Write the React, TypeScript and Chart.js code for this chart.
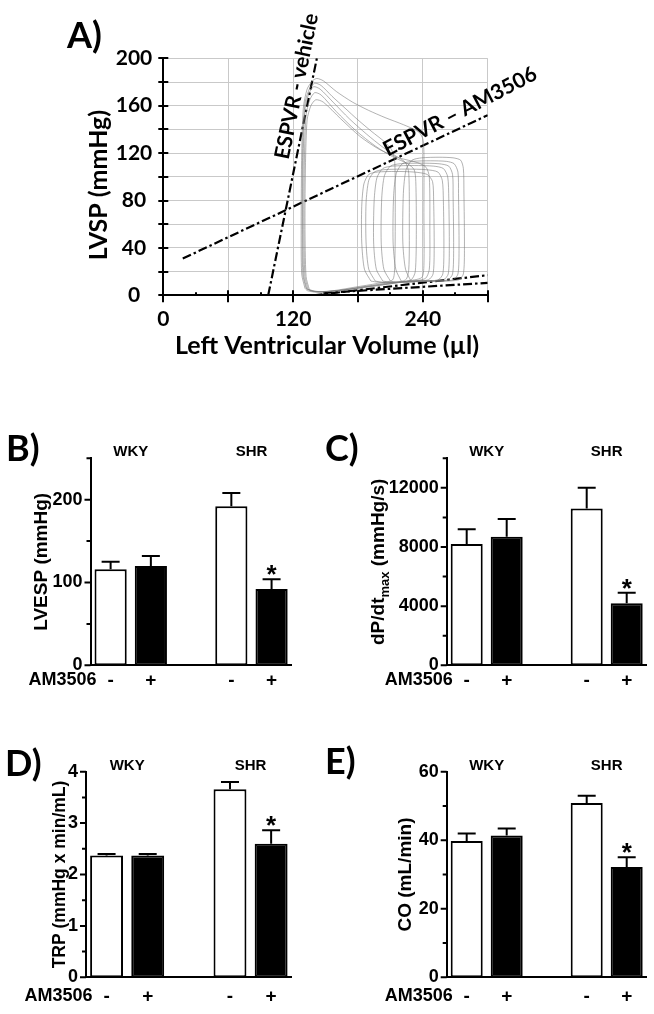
import React, { useEffect, useRef } from 'react';
import { Chart, registerables } from 'chart.js';

Chart.register(...registerables);

type Pt = [number, number];

// ---------------- Panel A: pressure–volume loops ----------------
const volumeMin = 0;
const volumeMax = 300;
const pressureMin = 0;
const pressureMax = 200;

const espvrVehicle: Pt[] = [[97, 0], [142, 200]];
const espvrAM3506: Pt[] = [[18, 31], [300, 152]];
const edpvrUpper: Pt[] = [[139, 0], [300, 17]];
const edpvrLower: Pt[] = [[148, 2], [300, 10.5]];

const vehicleLoop1: Pt[] = [[131, 6], [128, 18], [127.5, 60], [128, 120], [129.5, 158], [133, 174], [138, 181], [142, 183], [148, 181], [160, 172], [175, 163], [190, 156], [205, 150], [222, 144], [236, 138], [240, 132], [241, 120], [241, 70], [241, 25], [239, 15], [225, 12], [205, 9], [182, 6], [162, 4], [148, 3], [138, 3], [133, 4], [131, 6]];
const vehicleLoop2: Pt[] = [[132, 6], [129, 18], [128.5, 70], [129, 130], [131, 162], [135, 174], [140, 179], [146, 177], [156, 168], [168, 158], [180, 148], [193, 138], [204, 130], [211, 123], [214, 113], [214.5, 70], [214, 25], [212, 13], [198, 10], [178, 7], [158, 4], [144, 3], [136, 4], [132, 6]];
const vehicleLoop3: Pt[] = [[133, 5], [130, 16], [129, 60], [129.5, 120], [131, 157], [134.5, 170], [139, 176], [145, 174], [157, 163], [172, 149], [188, 136], [203, 125], [216, 117], [224, 112], [227, 103], [227.5, 60], [227, 22], [224, 13], [205, 10], [183, 7], [162, 4], [146, 3], [137, 4], [133, 5]];
const vehicleLoop4: Pt[] = [[134, 5], [131, 16], [130, 60], [130.5, 115], [132, 152], [135.5, 165], [140, 171], [146, 169], [160, 155], [178, 139], [196, 126], [212, 117], [226, 111], [232, 106], [233.5, 96], [234, 55], [233, 20], [229, 13], [208, 10], [185, 7], [164, 4], [148, 3], [139, 3], [134, 5]];
const vehicleLoop5: Pt[] = [[135, 5], [132, 16], [131, 60], [131.5, 112], [133, 148], [136.5, 160], [141, 165], [148, 163], [164, 149], [182, 134], [200, 123], [218, 116], [235, 112], [243, 108], [246, 100], [246.5, 55], [246, 22], [242, 14], [220, 11], [195, 8], [170, 5], [151, 3], [141, 3], [135, 5]];

const amLoop1: Pt[] = [[192, 12], [186, 22], [183.5, 45], [183.5, 75], [185.5, 94], [190, 102], [198, 104], [215, 104.5], [232, 104], [244, 102], [249, 96], [250, 80], [250.5, 40], [249.5, 18], [245, 13], [230, 12], [212, 11], [199, 11], [192, 12]];
const amLoop2: Pt[] = [[196, 12], [190, 22], [187.5, 45], [187.5, 78], [190, 97], [195, 104], [204, 106], [225, 106.5], [243, 106], [254, 104], [258, 97], [259, 80], [259.5, 40], [258.5, 18], [254, 13], [238, 12], [218, 11], [203, 11], [196, 12]];
const amLoop3: Pt[] = [[203, 12], [197, 22], [194.5, 45], [195, 80], [197.5, 99], [203, 107], [212, 109], [232, 109.5], [250, 109], [259, 107], [263, 100], [264, 82], [264.5, 40], [263.5, 18], [259, 13], [243, 12], [224, 11], [210, 11], [203, 12]];
const amLoop4: Pt[] = [[210, 12], [204, 22], [201.5, 45], [202, 82], [204.5, 101], [210, 109], [219, 111], [238, 111.5], [255, 111], [264, 109], [267.5, 102], [268, 84], [268.5, 40], [267.5, 18], [263, 13], [247, 12], [229, 12], [216, 11], [210, 12]];
const amLoop5: Pt[] = [[220, 12], [215, 22], [212.5, 45], [213, 84], [215.5, 103], [221, 111], [230, 113], [247, 113.5], [262, 113], [269, 111], [272.5, 104], [273, 86], [273.5, 40], [272.5, 18], [268, 13], [253, 12], [236, 12], [225, 11], [220, 12]];
const amLoop6: Pt[] = [[229, 12], [224, 22], [221.5, 45], [222, 86], [224.5, 106], [230, 114], [239, 116], [255, 116.5], [268, 116], [275, 114], [277.5, 107], [278, 88], [278.5, 40], [277.5, 18], [273, 13], [259, 12], [243, 12], [233, 12], [229, 12]];

const vehicleLoops = [vehicleLoop1, vehicleLoop2, vehicleLoop3, vehicleLoop4, vehicleLoop5];
const am3506Loops = [amLoop1, amLoop2, amLoop3, amLoop4, amLoop5, amLoop6];

// ---------------- Panels B–E: bar charts ----------------
const strains = ['WKY', 'SHR'];
const treatmentMarks = ['-', '+'];
const rowLabel = 'AM3506';
const significant = [false, false, false, true];

const lvespMean = [116, 120, 192, 92];
const lvespSem = [9, 12, 16, 12];
const dpdtMean = [8200, 8700, 10600, 4200];
const dpdtSem = [1000, 1200, 1400, 700];
const trpMean = [2.37, 2.37, 3.66, 2.6];
const trpSem = [0.03, 0.03, 0.14, 0.26];
const coMean = [39.8, 41.4, 50.9, 32.2];
const coSem = [2.2, 2.0, 2.1, 2.8];

const FA = 'Lato';
const FB = '"Liberation Sans", Arial, sans-serif';

function toXY(pts: Pt[]) {
  return pts.map(([x, y]) => ({ x, y }));
}

function drawParts(ctx: CanvasRenderingContext2D, parts: { text: string; sub?: boolean }[], cx: number, cy: number, size: number, family: string) {
  ctx.save();
  ctx.translate(cx, cy);
  ctx.rotate(-Math.PI / 2);
  const fonts = parts.map((p) => `bold ${p.sub ? Math.round(size * 0.68) : size}px ${family}`);
  let total = 0;
  const widths = parts.map((p, i) => {
    ctx.font = fonts[i];
    const w = ctx.measureText(p.text).width;
    total += w;
    return w;
  });
  let xx = -total / 2;
  ctx.textAlign = 'left';
  ctx.textBaseline = 'middle';
  ctx.fillStyle = '#000';
  parts.forEach((p, i) => {
    ctx.font = fonts[i];
    ctx.fillText(p.text, xx, p.sub ? size * 0.32 : 0);
    xx += widths[i];
  });
  ctx.restore();
}

function labelAlong(chart: any, line: Pt[], t: number, offset: number, extraAngle: number, text: string, font: string) {
  const { ctx, scales } = chart;
  const ax = scales.x.getPixelForValue(line[0][0]);
  const ay = scales.y.getPixelForValue(line[0][1]);
  const bx = scales.x.getPixelForValue(line[1][0]);
  const by = scales.y.getPixelForValue(line[1][1]);
  const ang = Math.atan2(by - ay, bx - ax);
  const px = ax + (bx - ax) * t;
  const py = ay + (by - ay) * t;
  const nx = Math.sin(ang);
  const ny = -Math.cos(ang);
  ctx.save();
  ctx.translate(px + nx * offset, py + ny * offset);
  ctx.rotate(ang + extraAngle);
  ctx.font = font;
  ctx.fillStyle = '#000';
  ctx.textAlign = 'center';
  ctx.textBaseline = 'middle';
  ctx.fillText(text, 0, 0);
  ctx.restore();
}

const pvPlugin = {
  id: 'pvExtras',
  afterDraw(chart: any) {
    const { ctx, chartArea: a, scales } = chart;
    const x = scales.x;
    const y = scales.y;
    ctx.save();
    ctx.strokeStyle = '#000';
    ctx.lineWidth = 2;
    ctx.beginPath();
    for (const t of y.ticks) {
      const py = Math.round(y.getPixelForValue(t.value));
      ctx.moveTo(a.left - 5, py);
      ctx.lineTo(a.left + 5, py);
    }
    for (const t of x.ticks) {
      const px = Math.round(x.getPixelForValue(t.value));
      if (t.value % 60 === 0) {
        ctx.moveTo(px, a.bottom - 5);
        ctx.lineTo(px, a.bottom + 7);
      } else {
        ctx.moveTo(px, a.bottom - 3);
        ctx.lineTo(px, a.bottom);
      }
    }
    ctx.stroke();
    ctx.restore();

    labelAlong(chart, espvrVehicle, 0.87, 14, 0, 'ESPVR - vehicle', `bold 21px ${FA}`);
    labelAlong(chart, espvrAM3506, 0.93, 15, -0.04, 'ESPVR \u2013 AM3506', `bold 21px ${FA}`);

    drawParts(ctx, [{ text: 'LVSP (mmHg)' }], 99, 185, 25, FA);
    ctx.save();
    ctx.font = `bold 25px ${FA}`;
    ctx.fillStyle = '#000';
    ctx.textAlign = 'center';
    ctx.textBaseline = 'middle';
    ctx.fillText('Left Ventricular Volume (\u00b5l)', 327, 346);
    ctx.restore();
  },
};

function makeA() {
  const cw = 654;
  const ch = 380;
  const area = { L: 163.3, R: 487.7, T: 58.3, B: 295.3 };
  const tickFont = { family: FA, weight: 'bold' as const, size: 21 };
  const datasets: any[] = [
    ...[...vehicleLoops, ...am3506Loops].map((l) => ({
      data: toXY(l),
      borderColor: 'rgba(120,120,120,0.72)',
      borderWidth: 0.8,
      pointRadius: 0,
      showLine: true,
      tension: 0.25,
    })),
    ...[espvrVehicle, espvrAM3506, edpvrUpper, edpvrLower].map((l) => ({
      data: toXY(l),
      borderColor: '#000',
      borderWidth: 2.2,
      borderDash: [9, 3, 2.5, 3],
      pointRadius: 0,
      showLine: true,
      tension: 0,
    })),
  ];
  return {
    type: 'scatter',
    data: { datasets },
    options: {
      animation: false,
      responsive: false,
      devicePixelRatio: 1,
      layout: { padding: { left: 0, top: area.T, right: cw - area.R, bottom: 0 } },
      plugins: { legend: { display: false }, tooltip: { enabled: false } },
      scales: {
        x: {
          type: 'linear',
          min: volumeMin,
          max: volumeMax,
          afterFit: (s: any) => { s.height = ch - area.B; },
          ticks: {
            stepSize: 30,
            autoSkip: false,
            maxRotation: 0,
            callback: (v: any) => (v % 120 === 0 ? String(v) : ''),
            font: tickFont,
            color: '#000',
            padding: 11,
          },
          grid: {
            color: (c: any) => (c.tick && c.tick.value % 60 === 0 ? '#c9c9c9' : 'rgba(0,0,0,0)'),
            drawTicks: false,
            lineWidth: 1,
          },
          border: { color: '#000', width: 2 },
        },
        y: {
          min: pressureMin,
          max: pressureMax,
          afterFit: (s: any) => { s.width = area.L; },
          ticks: {
            stepSize: 20,
            autoSkip: false,
            callback: (v: any) => (v % 40 === 0 ? String(v) : ''),
            crossAlign: 'center',
            font: tickFont,
            color: '#000',
            padding: 11,
          },
          grid: { color: '#c9c9c9', drawTicks: false, lineWidth: 1 },
          border: { color: '#000', width: 2 },
        },
      },
    },
    plugins: [pvPlugin],
  };
}

interface BarPanel {
  mean: number[];
  sem: number[];
  max: number;
  step: number;
  major: number;
  title: { text: string; sub?: boolean }[];
  titleSize: number;
  titleX: number;
  canvas: { x: number; y: number; w: number; h: number };
  area: { L: number; R: number; T: number; B: number };
  xPad: number;
}

function makeBar(p: BarPanel) {
  const c = p.canvas;
  const L = p.area.L - c.x;
  const R = p.area.R - c.x;
  const T = p.area.T - c.y;
  const B = p.area.B - c.y;
  const slots = [0, 1, 3, 4];
  const labels = [treatmentMarks[0], treatmentMarks[1], '', treatmentMarks[0], treatmentMarks[1]];
  const values: (number | null)[] = [null, null, null, null, null];
  const sems: (number | null)[] = [null, null, null, null, null];
  const stars: boolean[] = [false, false, false, false, false];
  slots.forEach((s, i) => {
    values[s] = p.mean[i];
    sems[s] = p.sem[i];
    stars[s] = significant[i];
  });
  const colors = labels.map((l) => (l === '+' ? '#000' : '#fff'));

  const plugin = {
    id: 'barExtras',
    afterDraw(chart: any) {
      const { ctx, chartArea: a, scales } = chart;
      const x = scales.x;
      const y = scales.y;
      const meta = chart.getDatasetMeta(0);
      ctx.save();
      ctx.strokeStyle = '#000';
      ctx.fillStyle = '#000';
      ctx.lineWidth = 2;
      ctx.beginPath();
      for (const t of y.ticks) {
        const py = y.getPixelForValue(t.value);
        const len = Math.abs(t.value % p.major) < 1e-9 ? 6 : 4;
        ctx.moveTo(a.left - len, py);
        ctx.lineTo(a.left, py);
      }
      ctx.stroke();
      ctx.beginPath();
      sems.forEach((s, i) => {
        const v = values[i];
        if (s == null || v == null) return;
        const bx = meta.data[i].x;
        const y0 = y.getPixelForValue(v);
        const y1 = y.getPixelForValue(v + s);
        ctx.moveTo(bx, y0);
        ctx.lineTo(bx, y1);
        ctx.moveTo(bx - 9, y1);
        ctx.lineTo(bx + 9, y1);
      });
      ctx.stroke();
      ctx.font = `bold 26px ${FB}`;
      ctx.textAlign = 'center';
      ctx.textBaseline = 'alphabetic';
      stars.forEach((st, i) => {
        const v = values[i];
        const s = sems[i];
        if (!st || v == null || s == null) return;
        const bx = meta.data[i].x;
        ctx.fillText('*', bx, y.getPixelForValue(v + s) + 4);
      });
      ctx.font = `bold 15px ${FB}`;
      ctx.textBaseline = 'middle';
      strains.forEach((g, gi) => {
        const cx = (x.getPixelForValue(gi * 3) + x.getPixelForValue(gi * 3 + 1)) / 2;
        ctx.fillText(g, cx, a.top - 6);
      });
      ctx.font = `bold 18px ${FB}`;
      ctx.textAlign = 'right';
      ctx.fillText(rowLabel, x.getPixelForValue(0) - 14, a.bottom + p.xPad + 10.8);
      ctx.restore();
      drawParts(ctx, p.title, p.titleX - c.x, (a.top + a.bottom) / 2, p.titleSize, FB);
    },
  };

  return {
    type: 'bar',
    data: {
      labels,
      datasets: [
        {
          data: values,
          backgroundColor: colors,
          borderColor: '#000',
          borderWidth: 2,
          borderSkipped: false,
          barPercentage: 1,
          categoryPercentage: 0.8,
        },
      ],
    },
    options: {
      animation: false,
      responsive: false,
      devicePixelRatio: 1,
      layout: { padding: { left: 0, top: T, right: c.w - R, bottom: 0 } },
      plugins: { legend: { display: false }, tooltip: { enabled: false } },
      scales: {
        x: {
          type: 'category',
          afterFit: (s: any) => { s.height = c.h - B; },
          ticks: { autoSkip: false, maxRotation: 0, font: { family: FB, weight: 'bold', size: 19 }, color: '#000', padding: p.xPad },
          grid: { display: false, drawTicks: false },
          border: { color: '#000', width: 2 },
        },
        y: {
          min: 0,
          max: p.max,
          afterFit: (s: any) => { s.width = L; },
          ticks: {
            stepSize: p.step,
            autoSkip: false,
            callback: (v: any) => (Math.abs(v % p.major) < 1e-9 ? String(v) : ''),
            font: { family: FB, weight: 'bold', size: 18 },
            color: '#000',
            padding: 8,
          },
          grid: { display: false, drawTicks: false },
          border: { color: '#000', width: 2 },
        },
      },
    },
    plugins: [plugin],
  };
}

const panelB: BarPanel = {
  mean: lvespMean, sem: lvespSem, max: 250, step: 50, major: 100,
  title: [{ text: 'LVESP (mmHg)' }], titleSize: 19, titleX: 42,
  canvas: { x: 0, y: 420, w: 327, h: 290 },
  area: { L: 90.5, R: 291.7, T: 458.3, B: 665.3 }, xPad: 4,
};
const panelC: BarPanel = {
  mean: dpdtMean, sem: dpdtSem, max: 14000, step: 2000, major: 4000,
  title: [{ text: 'dP/dt' }, { text: 'max', sub: true }, { text: ' (mmHg/s)' }], titleSize: 19, titleX: 379,
  canvas: { x: 327, y: 420, w: 327, h: 290 },
  area: { L: 446.7, R: 646.7, T: 458.3, B: 665.3 }, xPad: 4,
};
const panelD: BarPanel = {
  mean: trpMean, sem: trpSem, max: 4, step: 0.5, major: 1,
  title: [{ text: 'TRP (mmHg x min/mL)' }], titleSize: 17.5, titleX: 60,
  canvas: { x: 0, y: 720, w: 327, h: 294 },
  area: { L: 86, R: 291.7, T: 771.7, B: 977.3 }, xPad: 8,
};
const panelE: BarPanel = {
  mean: coMean, sem: coSem, max: 60, step: 10, major: 20,
  title: [{ text: 'CO (mL/min)' }], titleSize: 19, titleX: 406,
  canvas: { x: 327, y: 720, w: 327, h: 294 },
  area: { L: 446.7, R: 646.7, T: 771.7, B: 977.3 }, xPad: 8,
};

function ChartCanvas({ x, y, w, h, make }: { x: number; y: number; w: number; h: number; make: () => any }) {
  const ref = useRef<HTMLCanvasElement>(null);
  useEffect(() => {
    const chart = new Chart(ref.current as HTMLCanvasElement, make());
    return () => chart.destroy();
  }, []);
  return <canvas ref={ref} width={w} height={h} style={{ position: 'absolute', left: x, top: y, width: w, height: h, display: 'block' }} />;
}

const letterStyle = (left: number, top: number): React.CSSProperties => ({
  position: 'absolute',
  left,
  top,
  fontFamily: FA,
  fontWeight: 700,
  fontSize: 36,
  lineHeight: 1,
  color: '#000',
});

export default function App() {
  return (
    <div style={{ position: 'absolute', left: 0, top: 0, width: 654, height: 1014, background: '#fff', overflow: 'hidden' }}>
      <ChartCanvas x={0} y={0} w={654} h={380} make={makeA} />
      {[panelB, panelC, panelD, panelE].map((p, i) => (
        <ChartCanvas key={i} x={p.canvas.x} y={p.canvas.y} w={p.canvas.w} h={p.canvas.h} make={() => makeBar(p)} />
      ))}
      <div style={letterStyle(67, 16)}>A)</div>
      <div style={letterStyle(6, 429)}>B)</div>
      <div style={letterStyle(325, 429)}>C)</div>
      <div style={letterStyle(5, 744)}>D)</div>
      <div style={letterStyle(325, 742)}>E)</div>
    </div>
  );
}
